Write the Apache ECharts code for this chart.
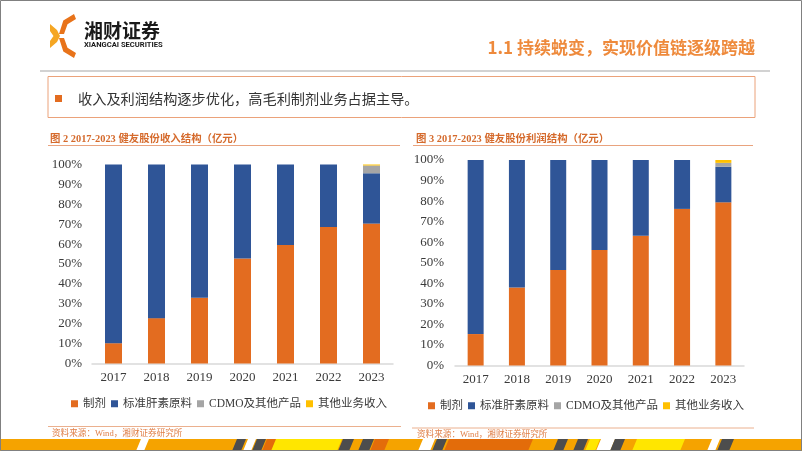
<!DOCTYPE html>
<html>
<head>
<meta charset="utf-8">
<script src="https://cdn.jsdelivr.net/npm/echarts@6/dist/echarts.min.js"></script>
<style>
html,body{margin:0;padding:0;background:#fff;}
#c{width:802px;height:451px;}
</style>
</head>
<body>
<div id="c"></div>
<script>
// ---- data ----
const years = ['2017', '2018', '2019', '2020', '2021', '2022', '2023'];
const seriesNames = ['制剂', '标准肝素原料', 'CDMO及其他产品', '其他业务收入'];
// 收入结构 (%)
const revPrep    = [10.2, 22.8, 33.0, 52.8, 59.5, 68.6, 70.3];
const revHeparin = [89.8, 77.2, 67.0, 47.2, 40.5, 31.4, 25.3];
const revCdmo    = [0, 0, 0, 0, 0, 0, 3.9];
const revOther   = [0, 0, 0, 0, 0, 0, 0.5];
// 利润结构 (%)
const profPrep    = [15.3, 37.9, 46.5, 56.2, 63.1, 76.2, 79.4];
const profHeparin = [84.7, 62.1, 53.5, 43.8, 36.9, 23.8, 17.3];
const profCdmo    = [0, 0, 0, 0, 0, 0, 1.9];
const profOther   = [0, 0, 0, 0, 0, 0, 1.4];
const yTicks = [0, 10, 20, 30, 40, 50, 60, 70, 80, 90, 100];

const colors = ['#E36C20', '#2F5597', '#A5A5A5', '#FFC000'];
const SERIF = "'Liberation Serif','Noto Sans CJK SC',serif";
const CJK = "'Noto Sans CJK SC','Noto Sans',sans-serif";

const chart = echarts.init(document.getElementById('c'), null, {renderer: 'canvas'});

function xAxisCfg(gi) {
  return {
    type: 'category', gridIndex: gi, data: years,
    axisLine: {lineStyle: {color: '#D9D9D9', width: 1.5}},
    axisTick: {show: false},
    axisLabel: {margin: 8, fontFamily: SERIF, fontSize: 13, color: '#3a3a3a'}
  };
}
function yAxisCfg(gi, margin) {
  return {
    type: 'value', gridIndex: gi, min: yTicks[0], max: yTicks[yTicks.length - 1], interval: yTicks[1] - yTicks[0],
    axisLine: {show: false}, axisTick: {show: false}, splitLine: {show: false},
    axisLabel: {margin: margin, fontFamily: SERIF, fontSize: 13, color: '#3a3a3a', formatter: '{value}%'}
  };
}
function barSeries(name, data, gi, stack, color, bw) {
  return {
    name: name, type: 'bar', xAxisIndex: gi, yAxisIndex: gi, stack: stack,
    data: data, barWidth: bw, itemStyle: {color: color}, silent: true
  };
}
function legendCfg(left, top) {
  return {
    left: left, top: top, padding: 0, itemWidth: 7, itemHeight: 7, itemGap: 5, icon: 'rect',
    data: seriesNames,
    textStyle: {fontFamily: SERIF, fontSize: 11.5, color: '#3a3a3a'}
  };
}

// bottom stripe segments (decoration)
const stripe = [
  [136, 8, '#FFFFFF'], [232, 9, '#4D4D4D'], [243, 8, '#FFFFFF'], [252, 9, '#4D4D4D'],
  [262, 10, '#E36C0A'], [271, 66, '#FFE600'], [338, 11, '#4D4D4D'], [358, 11, '#4D4D4D'],
  [370, 14, '#E36C0A'], [418, 12, '#FFFFFF'], [432, 10, '#4D4D4D'], [444, 84, '#E36C0A'],
  [553, 10, '#4D4D4D'], [573, 10, '#4D4D4D'], [585, 10, '#FFE600'], [596, 14, '#FFFFFF'],
  [610, 10, '#4D4D4D'], [632, 48, '#FFE600'], [707, 8, '#FFFFFF'], [717, 12, '#4D4D4D']
];
const stripeEls = [{type: 'rect', shape: {x: 0, y: 439, width: 802, height: 12}, style: {fill: '#F5A300'}}];
stripe.forEach(function (s) {
  const x = s[0], w = s[1], sl = 5;
  stripeEls.push({type: 'polygon', shape: {points: [[x, 451], [x + w, 451], [x + w + sl, 439], [x + sl, 439]]}, style: {fill: s[2]}});
});

const graphics = [
  // logo icon
  {type: 'polygon', shape: {points: [[74, 14], [63.3, 20.5], [59, 34], [64, 34], [67.5, 24.3], [76, 19]]}, style: {fill: '#E8731A'}},
  {type: 'polygon', shape: {points: [[74, 58], [63.3, 51.5], [59, 38], [64, 38], [67.5, 47.7], [76, 53]]}, style: {fill: '#E8731A'}},
  {type: 'polygon', shape: {points: [[50, 24], [57, 30], [60, 36], [57, 42], [50, 48], [50, 41], [53.5, 36], [50, 31]]}, style: {fill: '#F5A623'}},
  {type: 'text', style: {text: '湘财证券', x: 84, y: 31, font: 'bold 19px ' + CJK, fill: '#1a1a1a', verticalAlign: 'middle'}},
  {type: 'text', style: {text: 'XIANGCAI SECURITIES', x: 84, y: 45.5, font: 'bold 7.6px Roboto, sans-serif', fill: '#1a1a1a', verticalAlign: 'middle'}},
  // header title
  {type: 'text', style: {text: '1.1 持续蜕变，实现价值链逐级跨越', x: 755, y: 48, font: 'bold 17px ' + CJK, fill: '#EE8A3C', align: 'right', verticalAlign: 'middle'}},
  // header divider
  {type: 'line', shape: {x1: 40, y1: 71, x2: 770, y2: 71}, style: {stroke: '#D2D2D2', lineWidth: 2}},
  // summary box
  {type: 'rect', shape: {x: 48, y: 76.5, width: 707, height: 41}, style: {fill: 'none', stroke: '#EBA27A', lineWidth: 1}},
  {type: 'rect', shape: {x: 55, y: 95, width: 7, height: 7}, style: {fill: '#E36C20'}},
  {type: 'text', style: {text: '收入及利润结构逐步优化，高毛利制剂业务占据主导。', x: 78, y: 98.5, font: '14.2px ' + CJK, fill: '#333333', verticalAlign: 'middle'}},
  // figure titles
  {type: 'text', style: {text: '图 2 2017-2023 健友股份收入结构（亿元）', x: 50, y: 139, font: 'bold 10.4px ' + SERIF, fill: '#D56A2C', verticalAlign: 'middle'}},
  {type: 'line', shape: {x1: 48, y1: 145.5, x2: 400, y2: 145.5}, style: {stroke: '#E9A37E', lineWidth: 1}},
  {type: 'text', style: {text: '图 3 2017-2023 健友股份利润结构（亿元）', x: 416, y: 139, font: 'bold 10.4px ' + SERIF, fill: '#D56A2C', verticalAlign: 'middle'}},
  {type: 'line', shape: {x1: 413, y1: 145.5, x2: 753, y2: 145.5}, style: {stroke: '#E9A37E', lineWidth: 1}},
  // sources
  {type: 'line', shape: {x1: 48, y1: 426.5, x2: 401, y2: 426.5}, style: {stroke: '#EBB08E', lineWidth: 1}},
  {type: 'text', style: {text: '资料来源：Wind，湘财证券研究所', x: 52, y: 433.5, font: '8.6px ' + SERIF, fill: '#E0804A', verticalAlign: 'middle'}},
  {type: 'line', shape: {x1: 412, y1: 428, x2: 754, y2: 428}, style: {stroke: '#EBB08E', lineWidth: 1}},
  {type: 'text', style: {text: '资料来源：Wind，湘财证券研究所', x: 417, y: 435, font: '8.6px ' + SERIF, fill: '#E0804A', verticalAlign: 'middle'}}
].concat(stripeEls).concat([
  {type: 'rect', z: 100, shape: {x: 0.5, y: 0.5, width: 801, height: 450}, style: {fill: 'none', stroke: '#808080', lineWidth: 1}}
]);

const option = {
  animation: false,
  backgroundColor: '#FFFFFF',
  grid: [
    {left: 92, top: 164.5, width: 301, height: 199},
    {left: 455, top: 160, width: 289, height: 205.5}
  ],
  xAxis: [xAxisCfg(0), xAxisCfg(1)],
  yAxis: [yAxisCfg(0, 10), yAxisCfg(1, 11)],
  legend: [legendCfg(71, 398), legendCfg(428, 400)],
  series: [
    barSeries(seriesNames[0], revPrep, 0, 'rev', colors[0], 17),
    barSeries(seriesNames[1], revHeparin, 0, 'rev', colors[1], 17),
    barSeries(seriesNames[2], revCdmo, 0, 'rev', colors[2], 17),
    barSeries(seriesNames[3], revOther, 0, 'rev', colors[3], 17),
    barSeries(seriesNames[0], profPrep, 1, 'prof', colors[0], 16),
    barSeries(seriesNames[1], profHeparin, 1, 'prof', colors[1], 16),
    barSeries(seriesNames[2], profCdmo, 1, 'prof', colors[2], 16),
    barSeries(seriesNames[3], profOther, 1, 'prof', colors[3], 16)
  ],
  graphic: {elements: graphics}
};
chart.setOption(option);
</script>
</body>
</html>
